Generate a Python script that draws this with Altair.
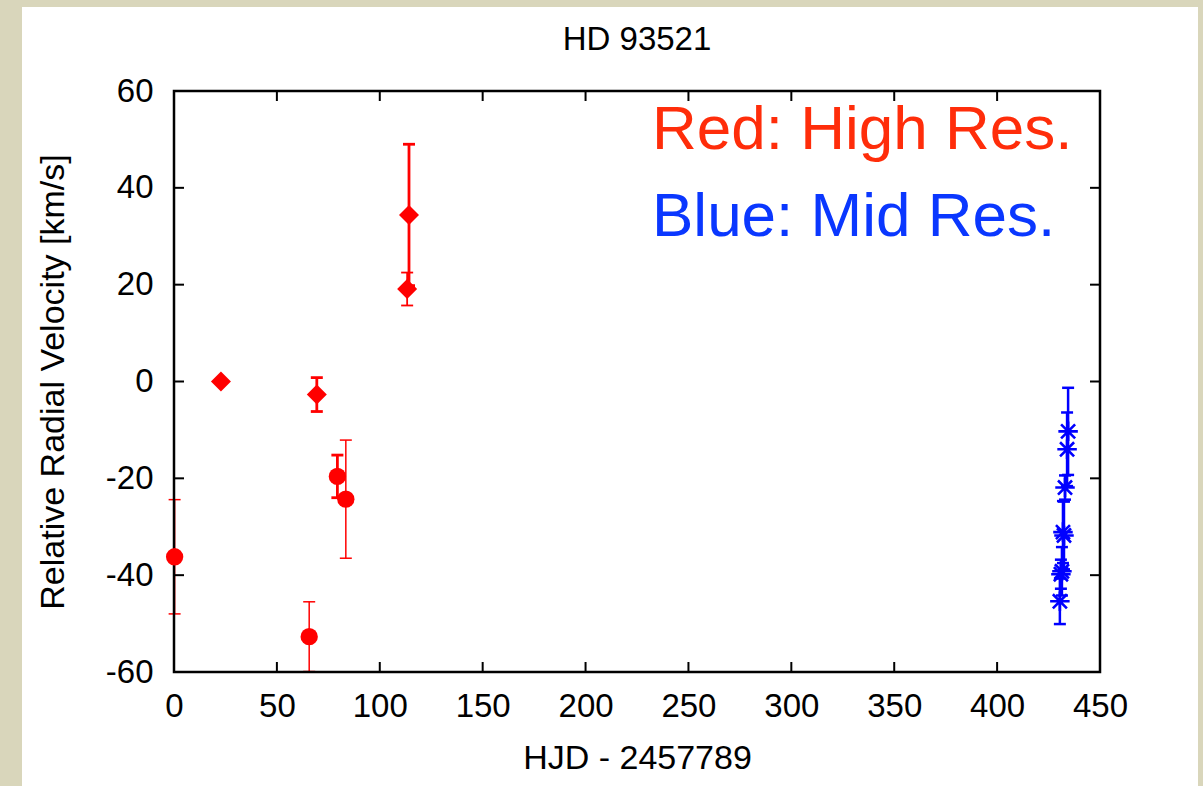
import altair as alt
import pandas as pd

# High-resolution spectra (red)
hjd_high = [0.3, 22.8, 69.4, 79.4, 83.5, 65.7, 114.2, 113.3]
rv_high = [-36.2, 0.0, -2.7, -19.6, -24.3, -52.7, 34.4, 19.1]
err_high = [11.8, 0.0, 3.5, 4.4, 12.2, 7.2, 14.6, 3.4]
shape_high = ["circle", "diamond", "diamond", "circle", "circle", "circle", "diamond", "diamond"]
bar_width_high = [1.5, 1.5, 2.8, 2.8, 1.5, 1.5, 2.8, 1.8]

# Mid-resolution spectra (blue)
hjd_mid = [434.5, 434.0, 433.0, 432.0, 432.5, 431.0, 431.5, 430.5]
rv_mid = [-10.3, -14.0, -21.9, -31.1, -31.8, -39.8, -39.2, -45.4]
err_mid = [9.0, 7.6, 2.5, 6.4, 7.0, 3.0, 5.0, 4.7]

x_ticks = [50, 100, 150, 200, 250, 300, 350, 400]
y_ticks = [-40, -20, 0, 20, 40]
x_labels = [0, 50, 100, 150, 200, 250, 300, 350, 400, 450]
y_labels = [-60, -40, -20, 0, 20, 40, 60]

W, H = 926, 581
FONT = "Liberation Sans"

hi = pd.DataFrame({"hjd": hjd_high, "rv": rv_high, "err": err_high,
                   "shape": shape_high, "lw": bar_width_high})
hi["lo"] = hi["rv"] - hi["err"]
hi["up"] = hi["rv"] + hi["err"]
hi["size"] = [300 if s == "circle" else 400 for s in shape_high]
hi_bars = hi[hi["err"] > 0]

mid = pd.DataFrame({"hjd": hjd_mid, "rv": rv_mid, "err": err_mid})
mid["lo"] = mid["rv"] - mid["err"]
mid["up"] = mid["rv"] + mid["err"]

x_scale = alt.Scale(domain=[0, 450], nice=False, zero=False)
y_scale = alt.Scale(domain=[-60, 60], nice=False, zero=False)

# plain hyphen-minus on the labels
plain = "datum.value + ''"

x_axis = alt.Axis(values=x_labels, ticks=False, domain=False, grid=False,
                  labelFont=FONT, labelFontSize=33, labelColor="black",
                  labelPadding=18, labelFlush=False, labelExpr=plain,
                  title="HJD - 2457789", titleFont=FONT, titleFontSize=34,
                  titleFontWeight="normal", titleColor="black", titlePadding=18,
                  zindex=1)
y_axis = alt.Axis(values=y_labels, ticks=False, domain=False, grid=False,
                  labelFont=FONT, labelFontSize=33, labelColor="black",
                  labelPadding=21, labelFlush=False, labelExpr=plain,
                  title="Relative Radial Velocity [km/s]", titleFont=FONT,
                  titleFontSize=34, titleFontWeight="normal", titleColor="black",
                  titlePadding=35, zindex=1)

X = alt.X("hjd:Q", scale=x_scale, axis=x_axis)
Y = alt.Y("rv:Q", scale=y_scale, axis=y_axis)

one = alt.Data(values=[{}])

# white sheet behind the plot
panel = alt.Chart(one).mark_rect(fill="white").encode(
    x=alt.value(-152), x2=alt.value(1024), y=alt.value(-84), y2=alt.value(700))

frame = alt.Chart(one).mark_rect(fill=None, stroke="black", strokeWidth=2.5).encode(
    x=alt.value(0), x2=alt.value(W), y=alt.value(0), y2=alt.value(H))

title = alt.Chart(one).mark_text(
    text="HD 93521", font=FONT, fontSize=33, color="black",
    align="center", baseline="alphabetic").encode(x=alt.value(W / 2), y=alt.value(-41))

xt = pd.DataFrame({"hjd": x_ticks})
yt = pd.DataFrame({"rv": y_ticks})
tick_style = dict(color="black", strokeWidth=2)
ticks = [
    alt.Chart(xt).mark_rule(**tick_style).encode(x=X, y=alt.value(H), y2=alt.value(H - 10)),
    alt.Chart(xt).mark_rule(**tick_style).encode(x=X, y=alt.value(0), y2=alt.value(10)),
    alt.Chart(yt).mark_rule(**tick_style).encode(y=Y, x=alt.value(0), x2=alt.value(10)),
    alt.Chart(yt).mark_rule(**tick_style).encode(y=Y, x=alt.value(W), x2=alt.value(W - 10)),
]

RED = "#ff0000"
BLUE = "#0000ff"

hi_err = alt.Chart(hi_bars).mark_rule(color=RED).encode(
    x=X, y=alt.Y("lo:Q", scale=y_scale, axis=y_axis), y2="up:Q",
    strokeWidth=alt.StrokeWidth("lw:Q", scale=None))
hi_cap_lo = alt.Chart(hi_bars).mark_rule(color=RED, xOffset=-6, x2Offset=6).encode(
    x=X, x2="hjd:Q", y=alt.Y("lo:Q", scale=y_scale, axis=y_axis),
    strokeWidth=alt.StrokeWidth("lw:Q", scale=None))
hi_cap_up = alt.Chart(hi_bars).mark_rule(color=RED, xOffset=-6, x2Offset=6).encode(
    x=X, x2="hjd:Q", y=alt.Y("up:Q", scale=y_scale, axis=y_axis),
    strokeWidth=alt.StrokeWidth("lw:Q", scale=None))
hi_pts = alt.Chart(hi).mark_point(filled=True, color=RED, opacity=1).encode(
    x=X, y=Y, shape=alt.Shape("shape:N", scale=None),
    size=alt.Size("size:Q", scale=None))

mid_err = alt.Chart(mid).mark_rule(color=BLUE, strokeWidth=2.5).encode(
    x=X, y=alt.Y("lo:Q", scale=y_scale, axis=y_axis), y2="up:Q")
mid_cap_lo = alt.Chart(mid).mark_rule(color=BLUE, strokeWidth=2.5, xOffset=-6, x2Offset=6).encode(
    x=X, x2="hjd:Q", y=alt.Y("lo:Q", scale=y_scale, axis=y_axis))
mid_cap_up = alt.Chart(mid).mark_rule(color=BLUE, strokeWidth=2.5, xOffset=-6, x2Offset=6).encode(
    x=X, x2="hjd:Q", y=alt.Y("up:Q", scale=y_scale, axis=y_axis))
star = "M-1,0L1,0M0,-1L0,1M-0.72,-0.72L0.72,0.72M-0.72,0.72L0.72,-0.72"
mid_pts = alt.Chart(mid).mark_point(shape=star, filled=False, color=BLUE,
                                     strokeWidth=2.6, size=380, opacity=1).encode(x=X, y=Y)

note_red = alt.Chart(one).mark_text(
    text="Red: High Res.", font=FONT, fontSize=62, color="#ff2d0a",
    align="left", baseline="alphabetic").encode(x=alt.value(478), y=alt.value(58))
note_blue = alt.Chart(one).mark_text(
    text="Blue: Mid Res.", font=FONT, fontSize=62, color="#0a37ff",
    align="left", baseline="alphabetic").encode(x=alt.value(478), y=alt.value(145))

# error bars sit under the frame, symbols on top of it
chart = alt.layer(
    panel,
    hi_err, hi_cap_lo, hi_cap_up,
    mid_err, mid_cap_lo, mid_cap_up,
    frame, *ticks,
    hi_pts, mid_pts,
    note_red, note_blue, title,
).properties(
    width=W, height=H,
    autosize=alt.AutoSizeParams(type="none"),
    padding={"left": 174, "top": 91, "right": 103, "bottom": 114},
    background="#d9d6bb",
).configure_view(stroke=None)

chart.save("out.html", embed_options={"renderer": "svg", "actions": False})
